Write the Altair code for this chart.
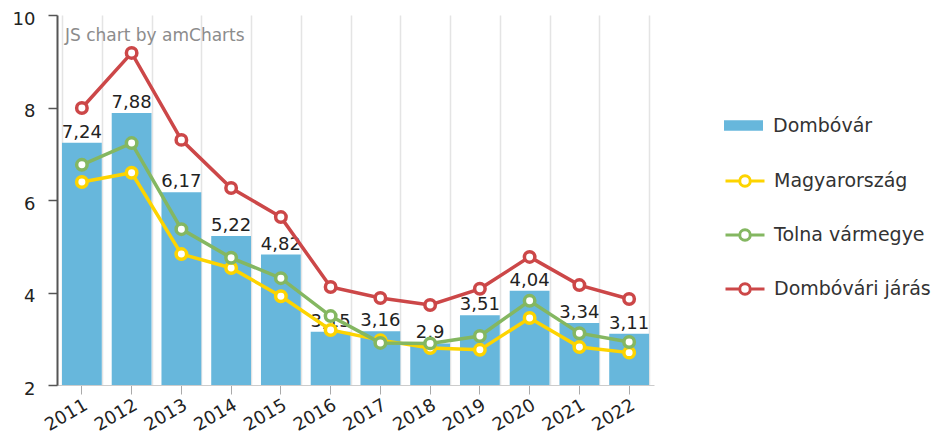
import altair as alt
import pandas as pd

years = [str(y) for y in range(2011, 2023)]
dombovar = [7.24, 7.88, 6.17, 5.22, 4.82, 3.15, 3.16, 2.9, 3.51, 4.04, 3.34, 3.11]
magyarorszag = [6.39, 6.59, 4.83, 4.53, 3.92, 3.19, 2.97, 2.80, 2.76, 3.45, 2.82, 2.70]
tolna = [6.76, 7.23, 5.37, 4.75, 4.31, 3.49, 2.91, 2.90, 3.06, 3.82, 3.12, 2.93]
jaras = [7.99, 9.18, 7.30, 6.26, 5.63, 4.12, 3.88, 3.73, 4.08, 4.77, 4.16, 3.86]

bar_name = "Dombóvár"
bar_color = "#67b7dc"
series_names = ["Magyarország", "Tolna vármegye", "Dombóvári járás"]
series_colors = ["#fdd400", "#84b761", "#cc4748"]
series_values = [magyarorszag, tolna, jaras]

FONT = "DejaVu Sans"

bar_df = pd.DataFrame({
    "year": years,
    "value": dombovar,
    "label": [f"{v:g}".replace(".", ",") for v in dombovar],
    "name": bar_name,
})

line_frames = []
for name, vals in zip(series_names, series_values):
    line_frames.append(pd.DataFrame({"year": years, "value": vals, "series": name}))

x_scale = alt.Scale(paddingInner=0.2, paddingOuter=0.1)
y_scale = alt.Scale(domain=[2, 10], nice=False, zero=False)

y_axis = alt.Axis(values=[2, 4, 6, 8, 10], title=None, grid=False,
                  labelFont=FONT, labelFontSize=18, labelColor="#222",
                  labelPadding=13, labelOffset=4, tickSize=9, tickColor="#555",
                  tickWidth=1.5, domainColor="#555", domainWidth=2)

grid_axis = alt.Axis(orient="bottom", title=None, labels=False, ticks=False,
                     domain=False, grid=True, tickBand="extent", tickOffset=-5,
                     gridColor="#e4e4e4", gridWidth=1.5)

main_x_axis = alt.Axis(orient="bottom", title=None, labelAngle=-30,
                       labelFont=FONT, labelFontSize=18, labelColor="#222",
                       labelPadding=2, tickSize=9, tickColor="#aaa",
                       domainColor="#ccc", grid=False)

rect_path = "M-1,-0.27H1V0.27H-1Z"
line_path = ("M-1,0H-0.27M0.27,0H1M0.27,0A0.27,0.27,0,1,1,-0.27,0"
             "A0.27,0.27,0,1,1,0.27,0Z")

fill_legend = alt.Legend(orient="none", legendX=667, legendY=91, title=None,
                         symbolType=rect_path, symbolSize=1521,
                         symbolStrokeWidth=0, labelFont=FONT, labelFontSize=19,
                         labelColor="#333", labelOffset=10, labelLimit=300)

stroke_legend = alt.Legend(orient="none", legendX=667, legendY=145, title=None,
                           symbolType=line_path, symbolSize=1521,
                           symbolStrokeWidth=3, symbolFillColor="white",
                           rowPadding=21, labelFont=FONT, labelFontSize=19,
                           labelColor="#333", labelOffset=8, labelLimit=300)

stroke_enc = alt.Stroke("series:N",
                        scale=alt.Scale(domain=series_names, range=series_colors),
                        legend=stroke_legend)

bars = alt.Chart(bar_df).mark_bar(opacity=1).encode(
    x=alt.X("year:N", scale=x_scale, axis=grid_axis, sort=years),
    y=alt.Y("value:Q", scale=y_scale, axis=y_axis),
    y2=alt.datum(2),
    fill=alt.Fill("name:N", scale=alt.Scale(domain=[bar_name], range=[bar_color]),
                  legend=fill_legend),
)

labels = alt.Chart(bar_df).mark_text(
    font=FONT, fontSize=18, color="#222", baseline="alphabetic", dy=-5
).encode(
    x=alt.X("year:N", scale=x_scale, axis=main_x_axis, sort=years),
    y=alt.Y("value:Q", scale=y_scale, axis=y_axis),
    text="label:N",
)

layers = [bars, labels]
for df in line_frames:
    ln = alt.Chart(df).mark_line(strokeWidth=3.5).encode(
        x=alt.X("year:N", scale=x_scale, axis=None, sort=years),
        y=alt.Y("value:Q", scale=y_scale, axis=y_axis),
        stroke=stroke_enc,
    )
    pt = alt.Chart(df).mark_point(shape="circle", filled=True, fill="white",
                                  size=110, strokeWidth=3.5, opacity=1).encode(
        x=alt.X("year:N", scale=x_scale, axis=None, sort=years),
        y=alt.Y("value:Q", scale=y_scale, axis=y_axis),
        stroke=stroke_enc,
    )
    layers += [ln, pt]

watermark = alt.Chart(pd.DataFrame({"t": ["JS chart by amCharts"]})).mark_text(
    font=FONT, fontSize=17, color="#8c8c8c", align="left", baseline="alphabetic"
).encode(x=alt.value(8), y=alt.value(26), text="t:N")
layers.append(watermark)

chart = alt.layer(*layers).resolve_axis(x="independent").properties(
    width=597, height=370,
    padding={"left": 49, "top": 7, "right": 285, "bottom": 51},
    autosize=alt.AutoSizeParams(type="none"),
).configure_view(stroke=None)

chart.save("out.html", embed_options={"renderer": "svg", "actions": False})
